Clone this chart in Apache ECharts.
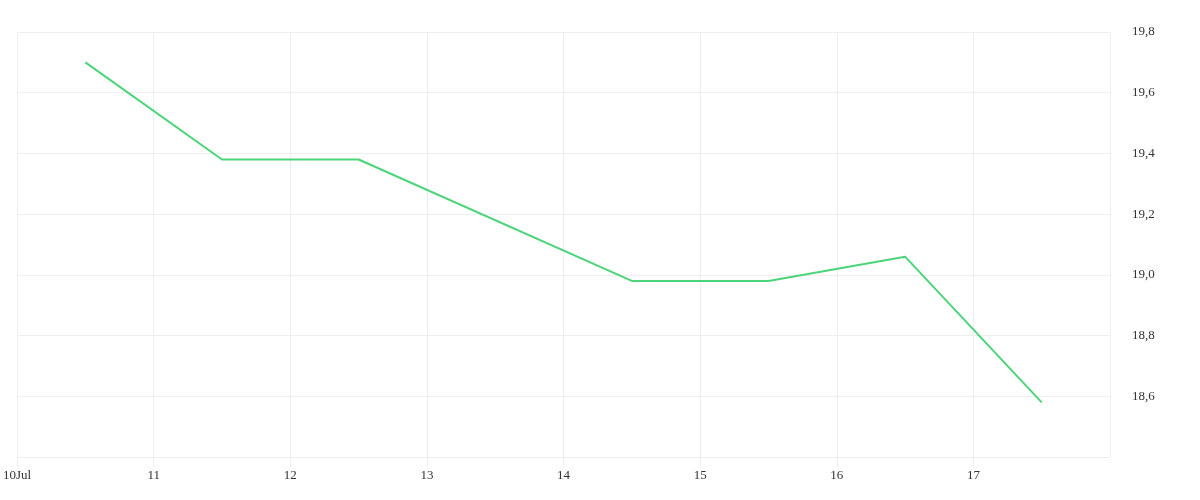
<!DOCTYPE html><html><head><meta charset="utf-8"><script src="https://cdn.jsdelivr.net/npm/echarts@6/dist/echarts.min.js"></script></head><body style="margin:0"><div id="c" style="width:1200px;height:500px"></div><script>
const days = [10.5, 11.5, 12.5, 14.5, 15.5, 16.5, 17.5];
const values = [19.70, 19.38, 19.38, 18.98, 18.98, 19.06, 18.58];
const font = 'Liberation Serif';
const chart = echarts.init(document.getElementById('c'));
chart.setOption({
  animation: false,
  grid: {left: 15, right: 90, top: 32, bottom: 43},
  xAxis: {type: 'value', min: 10, max: 18, interval: 1,
    axisLine: {show: false}, axisTick: {show: true, length: 10, lineStyle: {color: '#eee'}},
    splitLine: {show: true, lineStyle: {color: '#eee'}},
    axisLabel: {color: '#333', fontFamily: font, fontSize: 13, margin: 12, showMaxLabel: false,
      formatter: v => v === 10 ? '10Jul' : String(v)}},
  yAxis: {type: 'value', position: 'right', min: 18.4, max: 19.8, interval: 0.2,
    axisLine: {show: false}, axisTick: {show: false},
    splitLine: {lineStyle: {color: '#eee'}},
    axisLabel: {color: '#333', fontFamily: font, fontSize: 13, margin: 22, showMinLabel: false,
      formatter: v => v.toFixed(1).replace('.', ',')}},
  series: [{type: 'line', data: days.map((d, i) => [d, values[i]]), showSymbol: false,
    lineStyle: {color: '#4cd47a', width: 2}, itemStyle: {color: '#4cd47a'}}]
});
</script></body></html>
